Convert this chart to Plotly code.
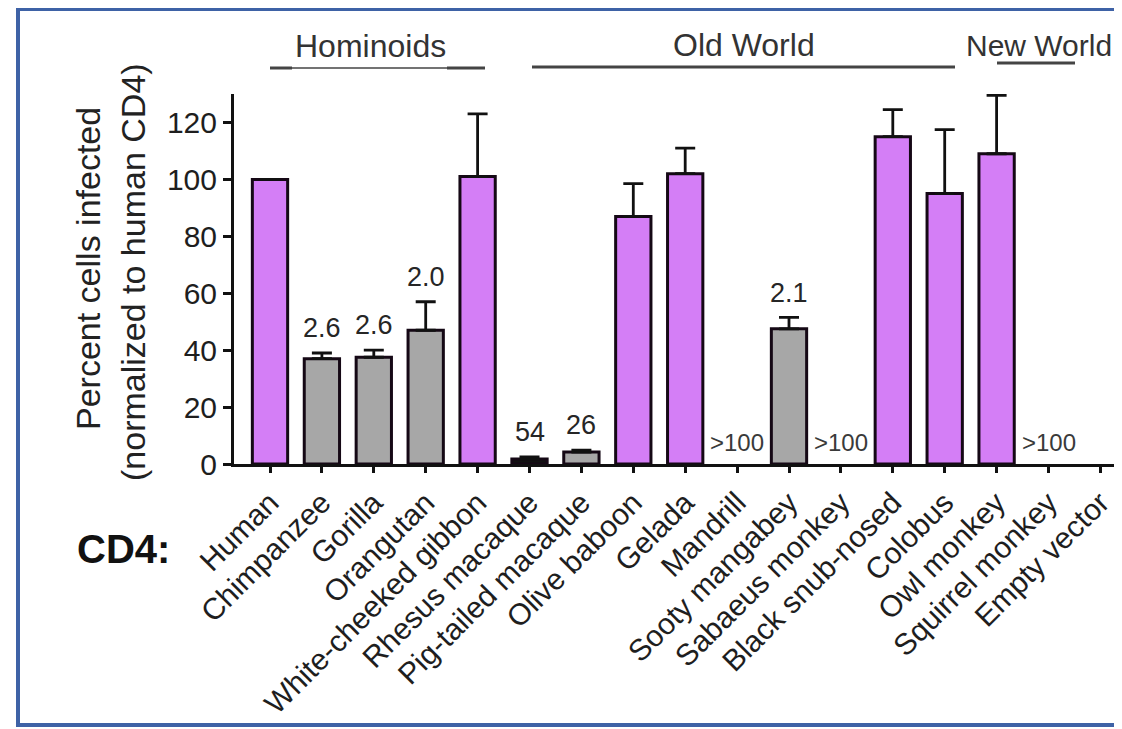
import plotly.graph_objects as go

species = ["Human", "Chimpanzee", "Gorilla", "Orangutan", "White-cheeked gibbon",
           "Rhesus macaque", "Pig-tailed macaque", "Olive baboon", "Gelada", "Mandrill",
           "Sooty mangabey", "Sabaeus monkey", "Black snub-nosed", "Colobus",
           "Owl monkey", "Squirrel monkey", "Empty vector"]
percent_infected = [100, 37, 37.5, 47, 101, 1.8, 4.2, 87, 102, None,
                    47.5, None, 115, 95, 109, None, None]
error_up = [None, 2, 2.5, 10, 22, 0.7, 0.7, 11.5, 9, None,
            4, None, 9.5, 22.5, 20.5, None, None]
bar_kind = ["full", "reduced", "reduced", "reduced", "full", "low", "reduced", "full", "full", "none",
            "reduced", "none", "full", "full", "full", "none", "none"]
fold_labels = ["", "2.6", "2.6", "2.0", "", "54", "26", "", "", ">100",
               "2.1", ">100", "", "", "", ">100", ""]
groups = ["Hominoids", "Old World", "New World"]
yticks = [0, 20, 40, 60, 80, 100, 120]

PURPLE = "#D47EF6"
GRAY = "#A7A7A7"
color_map = {"full": PURPLE, "reduced": GRAY, "low": "#111111", "none": "rgba(0,0,0,0)"}
FONT = "Liberation Sans, Arial, sans-serif"

# the page body adds an 8px margin; work in window pixels and subtract it
OFF = 8
W, H = 1122 - OFF, 729 - OFF
PL, PR, PT, PB = 234 - OFF, 1122 - OFF, 94 - OFF, 464 - OFF   # plot area (figure pixels)
X0_WIN, STEP = 270, 51.9   # window pixel of first category, category spacing


def px_x(p):
    return (p - OFF - PL) / (PR - PL)


def px_y(p):
    return (PB - (p - OFF)) / (PB - PT)


def cat_x(p):
    return (p - X0_WIN) / STEP


xs = list(range(len(species)))

fig = go.Figure()
fig.add_trace(go.Bar(
    x=xs, y=percent_infected, width=0.68,
    marker=dict(color=[color_map[k] for k in bar_kind],
                line=dict(color="#150815", width=3)),
    error_y=dict(type="data", symmetric=False,
                 array=error_up, arrayminus=[0] * len(xs),
                 color="#111111", thickness=2.8, width=10),
    showlegend=False,
))

annotations = []
for i, lab in enumerate(fold_labels):
    if not lab:
        continue
    top = (percent_infected[i] or 0) + (error_up[i] or 0)
    small = lab.startswith(">")
    annotations.append(dict(
        x=i, y=top + (7.7 if small else 8.7), xref="x", yref="y",
        text=lab, showarrow=False, yanchor="middle", xanchor="center",
        font=dict(family=FONT, size=24 if small else 27, color="#3a3a3a" if small else "#262626"),
    ))

# group labels
annotations.append(dict(x=cat_x(370), y=px_y(46), xref="x", yref="paper", text=groups[0],
                        showarrow=False, xanchor="center", yanchor="middle",
                        font=dict(family=FONT, size=32, color="#333333")))
annotations.append(dict(x=cat_x(744), y=px_y(45), xref="x", yref="paper", text=groups[1],
                        showarrow=False, xanchor="center", yanchor="middle",
                        font=dict(family=FONT, size=32, color="#333333")))
annotations.append(dict(x=cat_x(964), y=px_y(45), xref="x", yref="paper", text=groups[2],
                        showarrow=False, xanchor="left", yanchor="middle",
                        font=dict(family=FONT, size=30, color="#333333")))

# y-axis title (two lines)
annotations.append(dict(x=px_x(88), y=px_y(269), xref="paper", yref="paper",
                        text="Percent cells infected", textangle=-90, showarrow=False,
                        xanchor="center", yanchor="middle",
                        font=dict(family=FONT, size=34, color="#222222")))
annotations.append(dict(x=px_x(133), y=px_y(272), xref="paper", yref="paper",
                        text="(normalized to human CD4)", textangle=-90, showarrow=False,
                        xanchor="center", yanchor="middle",
                        font=dict(family=FONT, size=34, color="#222222")))
# CD4 label
annotations.append(dict(x=px_x(123), y=px_y(549), xref="paper", yref="paper",
                        text="<b>CD4:</b>", showarrow=False,
                        xanchor="center", yanchor="middle",
                        font=dict(family=FONT, size=40, color="#111111")))

LINE_C = "#444444"
shapes = [
    # Hominoids bracket: thin middle, heavier ends
    dict(type="line", xref="x", yref="paper", x0=cat_x(270), x1=cat_x(485), y0=px_y(68), y1=px_y(68),
         line=dict(color=LINE_C, width=1.5)),
    dict(type="line", xref="x", yref="paper", x0=cat_x(270), x1=cat_x(292), y0=px_y(68), y1=px_y(68),
         line=dict(color=LINE_C, width=3)),
    dict(type="line", xref="x", yref="paper", x0=cat_x(447), x1=cat_x(485), y0=px_y(68), y1=px_y(68),
         line=dict(color=LINE_C, width=3)),
    dict(type="line", xref="x", yref="paper", x0=cat_x(532), x1=cat_x(955), y0=px_y(67), y1=px_y(67),
         line=dict(color=LINE_C, width=3)),
    dict(type="line", xref="x", yref="paper", x0=cat_x(997), x1=cat_x(1075), y0=px_y(63), y1=px_y(63),
         line=dict(color=LINE_C, width=3)),
    # outer blue frame (right side lies beyond the picture)
    dict(type="rect", xref="paper", yref="paper",
         x0=px_x(18), x1=px_x(1200), y0=px_y(725), y1=px_y(9),
         line=dict(color="#3E62A6", width=4), layer="below"),
]

fig.update_layout(
    width=W, height=H,
    margin=dict(l=PL, r=W - PR, t=PT, b=H - PB, pad=0),
    paper_bgcolor="white", plot_bgcolor="white",
    annotations=annotations, shapes=shapes,
    xaxis=dict(
        range=[cat_x(234), cat_x(1122)],
        tickmode="array", tickvals=xs, ticktext=species,
        tickangle=-45, ticks="outside", ticklen=6, tickwidth=2.5, tickcolor="#111",
        tickfont=dict(family=FONT, size=30, color="#1e1e1e"),
        showline=True, linecolor="#111", linewidth=3,
        showgrid=False, zeroline=False, automargin=False, fixedrange=True,
    ),
    yaxis=dict(
        range=[0, 130],
        tickmode="array", tickvals=yticks,
        ticks="outside", ticklen=8, tickwidth=2.5, tickcolor="#111",
        tickfont=dict(family=FONT, size=30, color="#1e1e1e"),
        showline=True, linecolor="#111", linewidth=3,
        showgrid=False, zeroline=False, automargin=False, fixedrange=True,
    ),
)

fig.write_html("out.html")
